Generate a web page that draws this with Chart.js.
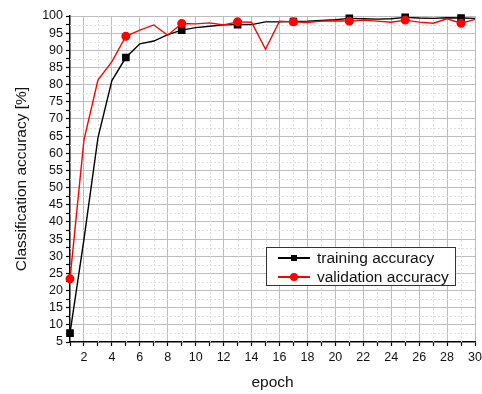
<!DOCTYPE html>
<html>
<head>
<meta charset="utf-8">
<script src="https://cdn.jsdelivr.net/npm/chart.js@4.4.1/dist/chart.umd.min.js"></script>
<style>
  body { margin: 0; background: #fff; }
  #wrap { position: relative; width: 482px; height: 394px; font-family: "Liberation Sans", Arial, sans-serif; }
  #legend {
    position: absolute; left: 266px; top: 247px; width: 190px; height: 39px;
    background: #fff; border: 1px solid #333; box-sizing: border-box;
    font-size: 15.5px; color: #111;
  }
  .row { position: absolute; left: 0; height: 20px; line-height: 20px; white-space: nowrap; }
  .row .line { position: absolute; left: 11px; top: 9px; width: 32px; height: 1.5px; }
  .row .mk { position: absolute; }
  .row .txt { position: absolute; left: 50px; top: 0; }
</style>
</head>
<body>
<div id="wrap">
  <canvas id="chart" width="482" height="394"></canvas>
  <div id="legend">
    <div class="row" style="top:0px">
      <span class="line" style="background:#000"></span>
      <span class="mk" style="left:24px;top:7px;width:6px;height:6px;background:#000"></span>
      <span class="txt">training accuracy</span>
    </div>
    <div class="row" style="top:19px">
      <span class="line" style="background:#f00"></span>
      <span class="mk" style="left:23px;top:6px;width:8px;height:8px;border-radius:50%;background:#f00"></span>
      <span class="txt">validation accuracy</span>
    </div>
  </div>
</div>
<script>
// Datos
const epochs = [1, 2, 3, 4, 5, 6, 7, 8, 9, 10, 11, 12, 13, 14, 15,
                16, 17, 18, 19, 20, 21, 22, 23, 24, 25, 26, 27, 28, 29, 30];
const trainingAcc = [7.6, 34.9, 64.5, 81.2, 87.9, 91.9, 92.7, 94.6, 95.9, 96.6,
                     97.0, 97.4, 97.5, 97.5, 98.3, 98.3, 98.4, 98.5, 98.7, 98.9,
                     99.3, 99.2, 99.1, 99.2, 99.6, 99.4, 99.3, 99.5, 99.4, 99.3];
const validationAcc = [23.4, 63.9, 81.3, 86.7, 94.1, 95.9, 97.4, 94.4, 97.8, 97.7,
                       98.0, 97.4, 98.3, 98.2, 90.3, 98.5, 98.3, 98.1, 98.5, 98.6,
                       98.5, 98.8, 98.5, 98.2, 98.8, 98.2, 97.9, 99.2, 97.9, 99.0];
const xMajorTicks = [2, 4, 6, 8, 10, 12, 14, 16, 18, 20, 22, 24, 26, 28, 30];
const yMajorTicks = [5, 10, 15, 20, 25, 30, 35, 40, 45, 50, 55, 60, 65, 70, 75, 80, 85, 90, 95, 100];

const FONT = "'Liberation Sans', Arial, sans-serif";
const MAJOR_GRID = '#bdbdbd';

// Marcadores cada 4 épocas
const markerEvery = (size) => (ctx) => (ctx.dataIndex % 4 === 0 ? size : 0);

// Líneas de rejilla menores punteadas
const minorGrid = {
  id: 'minorGrid',
  beforeDatasetsDraw(chart) {
    const { ctx, chartArea, scales } = chart;
    ctx.save();
    ctx.strokeStyle = '#dedede';
    ctx.lineWidth = 1;
    ctx.setLineDash([2, 2]);
    epochs.forEach(e => {
      if (xMajorTicks.includes(e) || e === 1) return;
      const x = Math.round(scales.x.getPixelForValue(e)) + 0.5;
      ctx.beginPath(); ctx.moveTo(x, chartArea.top); ctx.lineTo(x, chartArea.bottom); ctx.stroke();
    });
    yMajorTicks.forEach(v => {
      if (v === 100) return;
      const y = Math.round(scales.y.getPixelForValue(v + 2.5)) + 0.5;
      ctx.beginPath(); ctx.moveTo(chartArea.left, y); ctx.lineTo(chartArea.right, y); ctx.stroke();
    });
    ctx.restore();
  }
};

const data = {
  labels: epochs,
  datasets: [
    {
      label: 'training accuracy',
      data: epochs.map((e, i) => ({ x: e, y: trainingAcc[i] })),
      borderColor: '#000',
      backgroundColor: '#000',
      borderWidth: 1.4,
      pointStyle: 'rect',
      pointRadius: markerEvery(4.4),
      pointHoverRadius: markerEvery(4.4),
      tension: 0,
      clip: false,
      order: 2
    },
    {
      label: 'validation accuracy',
      data: epochs.map((e, i) => ({ x: e, y: validationAcc[i] })),
      borderColor: '#ff0000',
      backgroundColor: '#ff0000',
      borderWidth: 1.4,
      pointStyle: 'circle',
      pointRadius: markerEvery(3.8),
      pointHoverRadius: markerEvery(3.8),
      tension: 0,
      clip: false,
      order: 1
    }
  ]
};

const config = {
  type: 'line',
  data: data,
  options: {
    responsive: false,
    animation: false,
    layout: { padding: { left: 0, right: 0, top: 16, bottom: 0 } },
    plugins: {
      legend: { display: false },
      tooltip: { enabled: false }
    },
    scales: {
      x: {
        type: 'linear',
        min: 1,
        max: 30,
        afterFit: (scale) => { scale.height = 52; scale.paddingRight = 7; },
        ticks: {
          stepSize: 1,
          autoSkip: false,
          maxRotation: 0,
          padding: 4,
          color: '#111',
          font: { family: FONT, size: 12.5 },
          callback: (v) => (xMajorTicks.includes(v) ? v : '')
        },
        grid: {
          color: (ctx) => (ctx.tick && xMajorTicks.includes(ctx.tick.value) ? MAJOR_GRID : 'rgba(0,0,0,0)'),
          tickColor: '#000',
          tickLength: 4,
          tickWidth: 1.2
        },
        border: { color: '#000', width: 1.5 },
        title: {
          display: true,
          text: 'epoch',
          color: '#111',
          font: { family: FONT, size: 15.5 },
          padding: { top: 0, bottom: 2 }
        }
      },
      y: {
        min: 5,
        max: 100,
        afterFit: (scale) => { scale.width = 70; },
        ticks: {
          stepSize: 2.5,
          autoSkip: false,
          padding: 3,
          color: '#111',
          font: { family: FONT, size: 12.5 },
          callback: (v) => (yMajorTicks.includes(v) ? v : '')
        },
        grid: {
          color: (ctx) => (ctx.tick && yMajorTicks.includes(ctx.tick.value) && ctx.tick.value !== 5 ? MAJOR_GRID : 'rgba(0,0,0,0)'),
          tickColor: '#000',
          tickLength: 4,
          tickWidth: 1.2
        },
        border: { color: '#000', width: 1.5 },
        title: {
          display: true,
          text: 'Classification accuracy [%]',
          color: '#111',
          font: { family: FONT, size: 15.5 },
          padding: { top: 12, bottom: 0 }
        }
      }
    }
  },
  plugins: [minorGrid]
};

new Chart(document.getElementById('chart').getContext('2d'), config);
</script>
</body>
</html>
